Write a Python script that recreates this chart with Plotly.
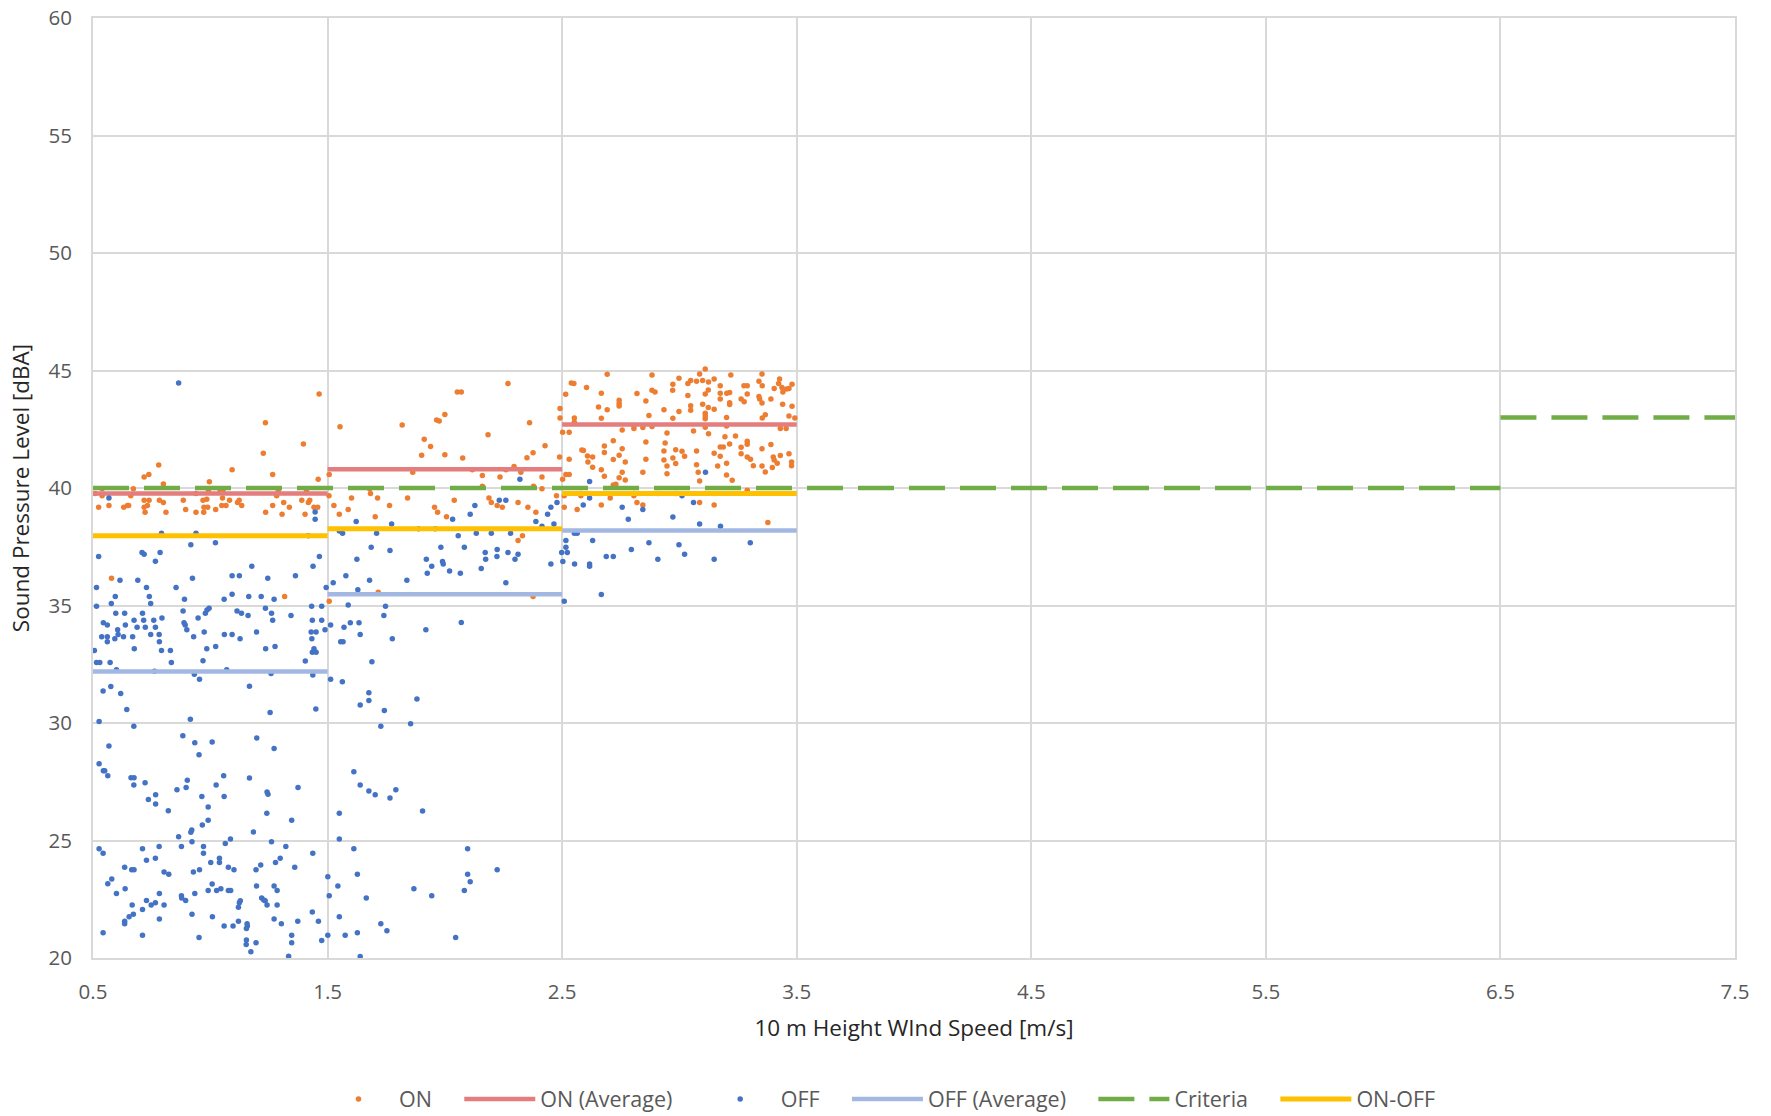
import plotly.graph_objects as go

# Wind speed / sound level readings (x = m/s, y = dBA)
on_points = [
    # 0.5 - 1.5 m/s
    (1.464, 44.00), (1.235, 42.78), (1.397, 41.87), (1.226, 41.48), (0.780, 40.98), (0.718, 40.47),
    (0.738, 40.57), (1.093, 40.78), (0.996, 40.27), (1.266, 40.57), (1.460, 40.37), (0.800, 40.17),
    (0.539, 39.97), (0.672, 39.97), (0.992, 39.87), (1.042, 39.87), (1.054, 39.87), (1.410, 39.87),
    (0.509, 39.77), (0.539, 39.67), (0.661, 39.67), (0.939, 39.77), (1.052, 39.57), (1.283, 39.67),
    (1.290, 39.87), (0.524, 39.18), (0.568, 39.26), (0.631, 39.18), (0.647, 39.26), (0.652, 39.26),
    (0.718, 39.48), (0.739, 39.48), (0.732, 39.26), (0.718, 39.18), (0.722, 38.97), (0.783, 39.48),
    (0.800, 39.38), (0.811, 38.97), (0.885, 39.48), (0.895, 39.08), (0.939, 38.97), (0.969, 39.48),
    (0.985, 39.52), (0.973, 39.18), (0.989, 39.18), (0.972, 38.97), (1.023, 39.08), (1.049, 39.26),
    (1.067, 39.26), (1.082, 39.48), (1.116, 39.38), (1.123, 39.48), (1.134, 39.26), (1.236, 38.97),
    (1.266, 39.26), (1.306, 38.88), (1.313, 39.38), (1.337, 39.18), (1.390, 39.48), (1.418, 39.38),
    (1.424, 39.48), (1.404, 38.88), (1.442, 39.18), (1.458, 39.18), (0.579, 36.16), (1.317, 35.38),
    # 1.5 - 2.5 m/s
    (1.553, 42.61), (2.269, 44.45), (2.053, 44.09), (2.070, 44.09), (2.515, 43.99), (2.000, 43.13),
    (1.965, 42.89), (1.976, 42.85), (1.818, 42.68), (2.361, 42.78), (2.491, 43.38), (2.491, 42.98),
    (2.502, 42.37), (2.184, 42.27), (1.912, 42.07), (1.939, 41.77), (1.901, 41.39), (2.000, 41.42),
    (2.076, 41.28), (2.427, 41.80), (2.376, 41.50), (2.350, 41.29), (2.295, 40.92), (2.260, 40.78),
    (2.323, 40.78), (2.324, 40.67), (2.489, 41.32), (2.117, 40.78), (2.160, 40.53), (2.235, 40.47),
    (2.414, 40.47), (2.502, 40.37), (2.516, 40.57), (1.863, 40.67), (1.507, 40.57), (2.160, 40.07),
    (2.378, 40.07), (2.414, 39.97), (1.679, 39.97), (1.683, 39.77), (1.713, 39.57), (1.602, 39.57),
    (1.506, 39.67), (1.841, 39.57), (2.040, 39.48), (2.188, 39.57), (2.198, 39.38), (2.223, 39.26),
    (2.245, 39.18), (2.312, 39.38), (2.354, 39.18), (2.476, 39.67), (2.509, 39.67), (2.509, 39.18),
    (1.527, 39.26), (1.588, 39.08), (1.550, 38.88), (1.764, 39.26), (1.703, 38.78), (1.956, 39.18),
    (1.969, 38.97), (2.007, 38.78), (2.388, 38.97), (2.331, 37.97), (2.312, 37.77), (1.716, 35.56),
    (2.376, 35.38), (1.507, 35.18),
    # 2.5 - 3.5 m/s
    (3.110, 45.06), (2.692, 44.84), (2.883, 44.81), (2.539, 44.47), (2.550, 44.45), (2.604, 44.28),
    (2.998, 44.67), (2.972, 44.41), (2.971, 44.16), (3.036, 44.45), (3.048, 44.57), (3.073, 44.54),
    (3.086, 44.85), (3.099, 44.57), (3.124, 44.51), (3.148, 44.64), (3.123, 44.17), (3.110, 44.00),
    (3.174, 44.35), (3.174, 44.03), (3.174, 43.79), (3.202, 44.03), (3.214, 44.06), (3.219, 44.81),
    (3.275, 44.35), (3.289, 44.35), (3.289, 44.00), (3.263, 43.79), (3.276, 43.67), (3.352, 44.85),
    (3.339, 44.54), (3.353, 44.35), (3.339, 43.89), (3.342, 43.79), (3.352, 43.62), (3.390, 43.79),
    (3.404, 44.23), (3.427, 44.64), (3.423, 44.45), (3.437, 44.28), (3.441, 44.09), (3.457, 44.21),
    (3.467, 44.23), (3.480, 44.41), (3.440, 43.56), (3.480, 43.48), (3.366, 43.12), (3.353, 42.98),
    (3.467, 43.06), (3.492, 42.98), (3.430, 42.53), (3.455, 42.53), (2.667, 44.03), (2.655, 43.45),
    (2.692, 43.33), (2.743, 43.73), (2.743, 43.60), (2.743, 43.49), (2.819, 44.02), (2.857, 43.70),
    (2.883, 44.16), (2.896, 44.09), (2.934, 43.33), (2.998, 43.26), (3.036, 43.94), (3.048, 43.50),
    (3.048, 43.31), (3.099, 43.56), (3.123, 43.43), (3.148, 43.35), (3.110, 43.18), (3.110, 43.06),
    (3.110, 42.95), (3.214, 43.63), (3.214, 43.55), (3.201, 43.00), (2.870, 43.08), (2.972, 42.97),
    (2.667, 42.97), (2.552, 42.98), (2.552, 42.80), (2.530, 42.37), (2.806, 42.65), (2.806, 42.53),
    (2.844, 42.57), (2.883, 42.62), (2.756, 42.47), (2.947, 42.34), (3.060, 42.43), (3.110, 42.58),
    (3.124, 42.31), (3.201, 42.64), (3.194, 42.18), (3.239, 42.21), (3.214, 41.87), (2.718, 42.01),
    (2.857, 41.96), (2.939, 41.92), (3.289, 41.99), (3.289, 41.86), (2.680, 41.79), (2.680, 41.51),
    (2.756, 41.67), (2.584, 41.62), (2.591, 41.60), (2.934, 41.57), (2.984, 41.63), (3.011, 41.56),
    (3.073, 41.57), (3.174, 41.75), (3.187, 41.75), (3.148, 41.48), (3.263, 41.73), (3.263, 41.46),
    (3.352, 41.67), (3.390, 41.85), (3.467, 41.46), (2.608, 41.36), (2.630, 41.32), (2.718, 41.21),
    (2.743, 41.39), (2.857, 41.22), (2.934, 41.19), (2.972, 41.28), (3.022, 41.35), (3.174, 41.35),
    (3.289, 41.32), (3.303, 41.22), (3.400, 41.32), (3.404, 41.19), (3.417, 41.05), (3.430, 41.38),
    (2.530, 41.22), (2.610, 41.11), (2.630, 40.88), (2.769, 41.11), (2.947, 40.94), (2.984, 41.04),
    (3.073, 40.99), (3.163, 40.94), (3.201, 41.05), (3.315, 40.95), (3.352, 40.94), (3.396, 40.87),
    (3.478, 41.11), (3.478, 40.95), (2.667, 40.78), (2.756, 40.67), (2.844, 40.67), (2.947, 40.61),
    (3.080, 40.67), (3.201, 40.55), (3.366, 40.68), (2.530, 40.57), (2.680, 40.50), (2.743, 40.44),
    (2.769, 40.34), (3.086, 40.30), (3.225, 40.33), (2.718, 40.13), (2.729, 40.16), (2.580, 39.77),
    (2.580, 39.67), (2.705, 39.57), (2.806, 39.77), (2.806, 39.67), (2.908, 39.77), (2.984, 39.77),
    (3.289, 39.90), (2.564, 39.08), (2.667, 39.28), (2.819, 39.38), (2.844, 39.28), (3.086, 39.38),
    (3.148, 39.28), (3.377, 38.53),
]

off_points = [
    # 0.5 - 1.5 m/s, upper part
    (0.865, 44.47), (0.568, 39.57), (1.447, 38.98), (1.447, 38.67), (0.792, 38.07), (0.939, 38.07),
    (1.418, 37.97), (0.917, 37.58), (1.022, 37.67), (0.524, 37.08), (0.709, 37.26), (0.718, 37.18),
    (0.786, 37.26), (0.766, 36.88), (1.465, 37.08), (1.438, 36.67), (1.177, 36.67), (1.093, 36.27),
    (1.124, 36.27), (1.363, 36.27), (1.245, 36.16), (0.615, 36.07), (0.691, 36.07), (0.924, 36.16),
    (0.515, 35.77), (0.728, 35.77), (0.854, 35.77), (1.494, 35.77), (0.595, 35.38), (0.740, 35.38),
    (0.746, 35.08), (0.890, 35.27), (1.059, 35.27), (1.093, 35.48), (1.164, 35.38), (1.217, 35.38),
    (1.272, 35.27), (0.578, 35.08), (0.515, 34.97), (1.432, 34.97), (1.475, 34.97), (0.597, 34.67),
    (0.635, 34.67), (0.711, 34.67), (0.884, 34.77), (0.979, 34.67), (0.986, 34.81), (0.995, 34.88),
    (1.114, 34.77), (1.133, 34.67), (1.161, 34.57), (1.235, 34.88), (1.261, 34.67), (1.266, 34.37),
    (0.948, 34.47), (0.794, 34.47), (0.675, 34.37), (0.716, 34.37), (0.759, 34.37), (0.544, 34.27),
    (0.561, 34.17), (0.638, 34.17), (0.688, 34.07), (0.723, 34.07), (0.766, 34.07), (0.888, 34.27),
    (0.893, 34.17), (0.900, 33.97), (1.344, 34.57), (1.435, 34.37), (1.475, 34.37), (1.489, 33.97),
    (0.605, 33.97), (0.607, 33.77), (0.537, 33.67), (0.561, 33.67), (0.561, 33.46), (0.593, 33.58),
    (0.630, 33.67), (0.669, 33.67), (0.746, 33.77), (0.782, 33.77), (0.783, 33.46), (0.929, 33.67),
    (0.974, 33.87), (1.060, 33.77), (1.093, 33.77), (1.127, 33.58), (1.197, 33.87), (1.430, 33.87),
    (1.451, 33.87), (1.433, 33.58), (0.676, 33.16), (0.792, 33.08), (0.830, 33.08), (0.985, 33.16),
    (1.023, 33.26), (1.236, 33.16), (1.276, 33.26), (1.442, 33.16), (1.435, 33.01), (1.451, 33.01),
    (0.506, 33.08),
    # 1.5 - 2.5 m/s, upper part
    (2.320, 40.37), (2.232, 39.48), (2.260, 39.48), (2.128, 39.26), (2.108, 38.88), (2.033, 38.67),
    (2.452, 39.18), (2.478, 39.38), (2.438, 38.88), (2.388, 38.57), (2.414, 38.37), (2.465, 38.47),
    (1.622, 38.57), (1.773, 38.47), (1.888, 38.27), (1.959, 38.27), (1.550, 38.17), (1.564, 38.07),
    (1.709, 38.07), (2.057, 37.97), (2.134, 38.07), (2.198, 38.07), (2.280, 38.07), (2.516, 37.77),
    (2.516, 37.48), (2.498, 37.26), (2.522, 37.26), (2.503, 36.87), (2.452, 36.77), (1.686, 37.48),
    (1.766, 37.34), (1.625, 36.97), (1.921, 36.97), (1.983, 37.48), (2.083, 37.48), (1.944, 36.67),
    (1.925, 36.37), (1.990, 36.87), (1.993, 36.77), (2.020, 36.47), (2.066, 36.37), (2.155, 36.57),
    (2.172, 37.26), (2.174, 36.97), (2.223, 37.38), (2.222, 37.08), (2.269, 37.26), (2.312, 37.18),
    (2.299, 36.97), (2.260, 35.97), (1.578, 36.27), (1.524, 35.97), (1.679, 36.07), (1.838, 36.07),
    (1.629, 35.67), (2.509, 35.18), (1.588, 35.02), (1.747, 34.97), (1.740, 34.57), (1.513, 34.17),
    (1.570, 34.07), (1.597, 34.27), (1.634, 34.27), (1.639, 33.77), (1.556, 33.46), (1.566, 33.46),
    (1.776, 33.58), (1.919, 33.97), (2.070, 34.28),
    # 2.5 - 3.5 m/s
    (2.617, 40.28), (3.111, 40.67), (2.617, 39.57), (2.590, 39.28), (2.756, 39.18), (2.844, 39.08),
    (3.011, 39.67), (3.060, 39.38), (2.782, 38.67), (2.972, 38.77), (3.086, 38.47), (3.175, 38.37),
    (2.552, 38.07), (2.564, 38.07), (2.630, 37.77), (2.870, 37.67), (2.998, 37.58), (3.302, 37.67),
    (2.795, 37.38), (3.022, 37.18), (2.553, 36.77), (2.617, 36.77), (2.617, 36.67), (2.688, 37.08),
    (2.718, 37.08), (2.908, 36.97), (3.148, 36.97), (2.667, 35.47),
    # 0.5 - 1.5 m/s, lower part
    (0.515, 32.57), (0.529, 32.57), (0.573, 32.57), (0.834, 32.57), (0.969, 32.65), (1.405, 32.64),
    (0.600, 32.27), (0.762, 32.20), (0.932, 32.07), (0.954, 31.86), (1.070, 32.27), (1.259, 32.11),
    (1.437, 32.04), (0.543, 31.36), (0.576, 31.55), (0.618, 31.26), (0.644, 30.57), (1.167, 31.56),
    (1.255, 30.45), (1.450, 30.60), (0.526, 30.06), (0.674, 29.86), (0.915, 30.16), (0.883, 29.46),
    (0.934, 29.16), (1.008, 29.19), (0.952, 28.65), (1.198, 29.36), (1.272, 28.92), (0.568, 29.02),
    (0.526, 28.27), (0.544, 27.97), (0.550, 27.97), (0.563, 27.76), (0.662, 27.67), (0.675, 27.67),
    (0.674, 27.36), (0.722, 27.46), (0.902, 27.56), (0.897, 27.26), (0.858, 27.16), (0.736, 26.75),
    (0.767, 26.95), (0.767, 26.55), (0.821, 26.27), (0.964, 26.87), (0.991, 26.43), (1.025, 27.36),
    (1.057, 27.76), (1.059, 26.87), (1.167, 27.66), (1.242, 27.06), (1.246, 26.97), (1.241, 26.16),
    (1.374, 27.26), (1.347, 25.86), (0.991, 25.86), (0.966, 25.66), (0.921, 25.45), (0.917, 25.35),
    (0.865, 25.16), (1.184, 25.36), (1.086, 25.06), (1.064, 24.87), (0.922, 24.95), (0.877, 24.75),
    (0.971, 24.75), (0.971, 24.46), (0.782, 24.75), (0.711, 24.65), (0.526, 24.65), (0.543, 24.46),
    (1.261, 24.95), (1.322, 24.75), (1.437, 24.46), (0.728, 24.16), (0.766, 24.25), (0.635, 23.86),
    (0.665, 23.76), (0.675, 23.76), (0.803, 23.66), (0.823, 23.56), (0.928, 23.66), (0.954, 23.76),
    (1.002, 24.06), (1.039, 24.25), (1.039, 24.06), (1.077, 23.86), (1.101, 23.76), (1.195, 23.76),
    (1.215, 23.96), (1.278, 24.06), (1.298, 24.25), (1.360, 23.86), (1.501, 23.46), (0.580, 23.36),
    (0.563, 23.16), (0.600, 22.75), (0.637, 22.95), (0.783, 22.75), (0.877, 22.65), (0.878, 22.55),
    (0.895, 22.45), (0.934, 22.75), (0.991, 22.87), (1.008, 23.15), (1.027, 22.87), (1.045, 22.95),
    (1.077, 22.87), (1.087, 22.87), (1.128, 22.44), (1.124, 22.35), (1.120, 22.16), (1.197, 23.06),
    (1.219, 22.55), (1.228, 22.47), (1.234, 22.44), (1.242, 22.26), (1.272, 23.06), (1.285, 22.87),
    (1.285, 22.26), (0.728, 22.45), (0.748, 22.26), (0.766, 22.35), (0.803, 22.26), (0.667, 22.26),
    (0.711, 22.06), (0.672, 21.86), (0.654, 21.76), (0.635, 21.56), (0.635, 21.46), (0.783, 21.66),
    (0.922, 21.86), (1.009, 21.76), (1.059, 21.36), (1.097, 21.36), (1.120, 21.56), (1.157, 21.46),
    (1.158, 21.36), (1.154, 21.26), (1.272, 21.66), (1.303, 21.46), (1.373, 21.56), (1.435, 21.96),
    (1.461, 21.56), (0.543, 21.07), (0.711, 20.97), (0.952, 20.87), (1.154, 20.77), (1.153, 20.57),
    (1.195, 20.65), (1.173, 20.27), (1.347, 20.97), (1.347, 20.65), (1.334, 20.07), (1.475, 20.75),
    (1.501, 20.97),
    # 1.5 - 2.5 m/s, lower part
    (1.689, 32.61), (1.513, 31.86), (1.563, 31.76), (1.676, 31.29), (1.676, 30.96), (1.639, 30.77),
    (1.742, 30.53), (1.881, 31.02), (1.727, 29.86), (1.854, 29.97), (1.612, 27.93), (1.639, 27.36),
    (1.676, 27.11), (1.703, 26.95), (1.766, 26.81), (1.791, 27.16), (1.905, 26.26), (1.550, 26.16),
    (1.550, 25.06), (1.612, 24.65), (2.097, 24.65), (1.627, 23.56), (2.097, 23.56), (2.108, 23.25),
    (2.223, 23.76), (1.544, 23.06), (2.083, 22.87), (1.507, 22.65), (1.665, 22.55), (1.868, 22.95),
    (1.944, 22.65), (1.550, 21.76), (1.727, 21.46), (1.753, 21.16), (1.627, 21.07), (1.575, 20.97),
    (2.046, 20.87), (1.639, 20.06),
]

# Bin averages (1 m/s bins) and criteria
bin_edges = [0.5, 1.5, 2.5, 3.5]
on_avg = [39.77, 40.80, 42.70]
off_avg = [32.19, 35.48, 38.19]
on_minus_off = [37.97, 38.27, 39.77]
criteria_x = [0.5, 6.5, 7.5]
criteria_y = [40, 43]

# padding after legend labels (non-breaking spaces so they are not collapsed)
pad = '\u00a0' * 4


# Turn bin values into flat line segments (no vertical joins)
def stepSegments(edges, values):
    xs = []; ys = []
    for i in range(len(values)):
        xs += [edges[i], edges[i+1], None]
        ys += [values[i], values[i], None]
    return xs, ys


fig = go.Figure()

fig.add_trace(go.Scatter(x=[p[0] for p in on_points], y=[p[1] for p in on_points],
    mode='markers', name='ON' + pad, marker=dict(color='#ED7D31', size=5.5)))

x, y = stepSegments(bin_edges, on_avg)
fig.add_trace(go.Scatter(x=x, y=y, mode='lines', name='ON (Average)' + pad,
    line=dict(color='#E47D7D', width=4.5)))

fig.add_trace(go.Scatter(x=[p[0] for p in off_points], y=[p[1] for p in off_points],
    mode='markers', name='OFF' + pad, marker=dict(color='#4472C4', size=5.5)))

x, y = stepSegments(bin_edges, off_avg)
fig.add_trace(go.Scatter(x=x, y=y, mode='lines', name='OFF (Average)' + pad,
    line=dict(color='#A2B7E2', width=4.5)))

x, y = stepSegments(criteria_x, criteria_y)
fig.add_trace(go.Scatter(x=x, y=y, mode='lines', name='Criteria' + pad,
    line=dict(color='#70AD47', width=4.5, dash='36px,15px')))

x, y = stepSegments(bin_edges, on_minus_off)
fig.add_trace(go.Scatter(x=x, y=y, mode='lines', name='ON-OFF',
    line=dict(color='#FFC000', width=5)))

fig.update_layout(
    width=1771, height=1116,
    margin=dict(l=93, r=36, t=18, b=158, autoexpand=False),
    paper_bgcolor='white', plot_bgcolor='white',
    font=dict(family='Open Sans, sans-serif', size=20.5, color='#595959'),
    showlegend=True,
    legend=dict(orientation='h', x=0.479, xanchor='center', y=-0.150, yanchor='middle',
                font=dict(size=21.5, color='#595959'), itemwidth=71),
)
fig.update_xaxes(range=[0.5, 7.5], tick0=0.5, dtick=1, showgrid=True, gridcolor='#D9D9D9', gridwidth=2,
    showline=True, linecolor='#D9D9D9', linewidth=2, mirror=True, zeroline=False,
    ticks='', ticklabelstandoff=14, ticklabeloverflow='allow', automargin=False,
    title=dict(text='10 m Height WInd Speed [m/s]', font=dict(size=22.5, color='#262626'), standoff=17))
fig.update_yaxes(range=[20, 60], tick0=20, dtick=5, showgrid=True, gridcolor='#D9D9D9', gridwidth=2,
    showline=True, linecolor='#D9D9D9', linewidth=2, mirror=True, zeroline=False,
    ticks='', ticklabelstandoff=15, ticklabeloverflow='allow', automargin=False,
    title=dict(text='Sound Pressure Level [dBA]', font=dict(size=22.5, color='#262626'), standoff=13))

# drop the page's default body margin so the figure fills the window exactly
fig.write_html("out.html", config={'displayModeBar': False},
               post_script="document.body.style.margin='0';")
